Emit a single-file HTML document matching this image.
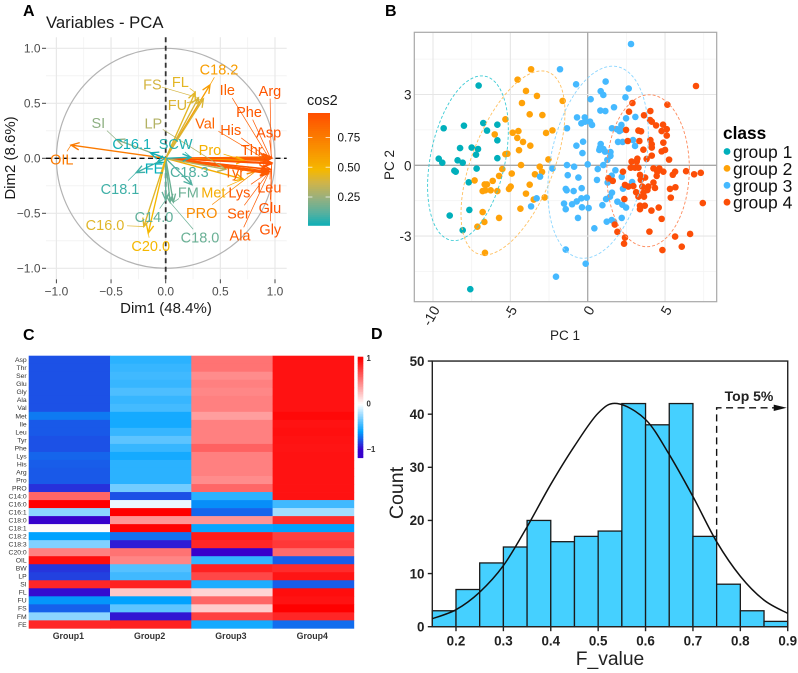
<!DOCTYPE html>
<html>
<head>
<meta charset="utf-8">
<title>PCA, heatmap and histogram figure</title>
<style>
html,body{margin:0;padding:0;background:#fff;width:798px;height:673px;overflow:hidden}
svg{display:block}
text{font-family:"Liberation Sans",sans-serif}
</style>
</head>
<body>
<svg id="fig" width="798" height="673" viewBox="0 0 798 673" xmlns="http://www.w3.org/2000/svg">
  <rect width="798" height="673" fill="#fff"/>
  <text x="23" y="16" font-size="16" font-weight="700">A</text>
  <text x="385" y="16" font-size="16" font-weight="700">B</text>
  <text x="23" y="340" font-size="16" font-weight="700">C</text>
  <text x="371" y="339" font-size="16" font-weight="700">D</text>

  <g id="panelA">
    <text x="46" y="28" font-size="16.7" fill="#1a1a1a">Variables - PCA</text>
    <text x="166" y="313" font-size="15" text-anchor="middle" fill="#1a1a1a">Dim1 (48.4%)</text>
    <text transform="translate(15,158) rotate(-90)" font-size="15" text-anchor="middle" fill="#1a1a1a">Dim2 (8.6%)</text>
    <text x="307" y="105" font-size="14.5" fill="#1a1a1a">cos2</text>
  </g>

  <g id="panelB">
    <text x="565" y="340" font-size="13.5" text-anchor="middle" fill="#222">PC 1</text>
    <text transform="translate(394,165) rotate(-90)" font-size="13.5" text-anchor="middle" fill="#222">PC 2</text>
    <text x="723" y="139" font-size="17.3" font-weight="700">class</text>
  </g>

  <g id="panelC"></g>

  <g id="panelD">
    <text x="610" y="665" font-size="19.3" text-anchor="middle" fill="#222">F_value</text>
    <text transform="translate(403,493) rotate(-90)" font-size="19.6" text-anchor="middle" fill="#222">Count</text>
    <text x="749" y="401" font-size="14" font-weight="700" text-anchor="middle" fill="#222">Top 5%</text>
  </g>
</svg>

<script>
/* ---------- Panel A data ---------- */
const varNames = ["Arg","Asp","Thr","Phe","Ile","Val","His","Pro","Tyr","Met","Lys","PRO","Ser","Ala","Leu","Glu","Gly","OIL","C18.2","FS","FL","FU","LP","SI","C16.1","SCW","FE","C18.3","C18.1","FM","C14.0","C18.0","C16.0","C20.0"];
const varDim1 = [0.965,0.97,0.95,0.96,0.94,0.93,0.95,0.72,0.93,0.71,0.95,0.82,0.94,0.94,0.96,0.97,0.97,-0.866,0.405,0.30,0.27,0.345,0.55,-0.45,-0.14,0.23,-0.08,0.24,-0.27,0.07,0.0,0.04,-0.2,-0.16];
const varDim2 = [0.01,0.0,0.01,0.0,0.01,-0.02,-0.01,-0.02,-0.1,-0.19,-0.12,-0.12,-0.13,-0.14,-0.1,-0.05,-0.04,0.12,0.667,0.55,0.6,0.54,-0.1,0.17,0.05,0.01,-0.04,-0.24,-0.13,-0.4,-0.38,-0.4,-0.62,-0.68];
const labelDim1 = [0.954,0.942,0.787,0.762,0.564,0.36,0.595,0.405,0.625,0.436,0.674,0.329,0.665,0.68,0.948,0.954,0.957,-0.951,0.488,-0.122,0.134,0.107,-0.113,-0.616,-0.311,0.091,-0.107,0.216,-0.418,0.207,-0.107,0.314,-0.555,-0.137];
const labelDim2 = [0.615,0.236,0.076,0.424,0.621,0.318,0.258,0.076,-0.127,-0.309,-0.309,-0.494,-0.5,-0.7,-0.264,-0.448,-0.645,-0.009,0.809,0.673,0.697,0.485,0.318,0.324,0.13,0.13,-0.091,-0.124,-0.276,-0.309,-0.53,-0.718,-0.606,-0.794];
const pcaTicks = [-1,-0.5,0,0.5,1];
const pcaTickLabels = ["\u22121.0","\u22120.5","0.0","0.5","1.0"];
const pcaMinorTicks = [-0.75,-0.25,0.25,0.75];
const cos2Ticks = [0.25,0.5,0.75];

/* ---------- Panel B data ---------- */
const group1X = [-7.05,-9.31,-8.0,-6.75,-5.84,-6.51,-5.84,-8.25,-7.5,-7.09,-7.22,-9.63,-9.4,-8.41,-8.08,-5.84,-8.62,-8.53,-7.18,-7.69,-7.65,-8.92,-8.08,-7.59];
const group1Y = [3.38,1.57,1.68,1.79,1.72,1.47,1.06,0.73,0.75,0.69,0.45,0.28,0.11,0.21,0.11,0.30,-0.23,-0.27,-0.14,-0.72,-1.89,-2.13,-2.75,-5.25];
const group2X = [-3.66,-4.53,-1.62,-3.99,-3.28,-4.25,-3.75,-2.93,-5.32,-6.01,-4.85,-4.48,-4.55,-4.18,-3.71,-2.69,-2.28,-4.44,-5.32,-5.19,-2.54,-4.31,-3.1,-5.52,-4.91,-5.73,-3.41,-2.95,-7.31,-6.66,-6.51,-6.14,-6.79,-6.62,-6.27,-5.84,-5.09,-4.98,-3.75,-3.99,-3.49,-2.78,-4.35,-5.73,-6.79,-6.68,-7.13,-6.64];
const group2Y = [4.07,3.63,2.73,3.15,2.94,2.64,2.16,2.13,1.95,1.31,1.38,1.45,1.16,0.99,0.83,1.37,1.48,0.64,0.47,0.49,0.25,0.01,-0.06,-0.16,-0.35,-0.45,-0.38,-0.28,-0.64,-0.81,-0.81,-0.66,-1.09,-1.06,-1.06,-1.09,-1.0,-0.9,-0.82,-1.2,-1.45,-1.36,-1.84,-2.23,-1.98,-2.4,-2.6,-3.71];
const group3X = [2.8,-1.79,-0.75,1.16,2.65,0.84,1.01,2.44,0.19,0.82,1.14,1.7,2.48,3.08,-0.69,-0.19,-0.41,-0.17,0.15,0.28,-1.34,1.57,2.18,1.88,2.05,2.16,1.96,2.26,2.93,3.06,-0.3,-0.73,-0.34,0.84,0.8,0.75,1.01,1.12,1.47,1.47,1.27,1.01,0,-1.34,-0.88,-2.28,0.65,1.79,1.55,1.36,1.29,-1.29,-0.6,-3.08,0.6,2.2,2.87,2.28,-1.42,-1.36,-0.91,-0.39,1.57,1.44,1.19,-0.06,-0.41,-0.71,-1.01,-1.53,-1.42,-0.37,0.06,0.95,1.92,2.24,2.48,-3.66,-3.3,-0.63,2.2,1.23,1.55,1.7,0.43,-1.42,-0.13,-2.05];
const group3Y = [5.14,4.07,3.43,3.55,3.25,3.14,2.98,2.88,2.8,2.32,2.3,2.46,1.99,2.05,2.03,2.03,1.78,1.85,1.85,1.71,1.57,1.57,1.71,1.53,1.45,1.5,0.99,0.99,1.07,0.82,1.0,0.83,0.52,0.9,0.75,0.65,0.69,0.58,0.56,0.4,0.23,0.01,0.04,0.01,-0.06,-0.14,-0.16,-0.21,-0.44,-0.55,-0.73,-0.42,-0.52,-0.48,-0.62,-0.49,-0.71,-0.99,-1.0,-1.06,-1.09,-0.97,-1.16,-1.33,-1.43,-1.37,-1.4,-1.53,-1.65,-1.62,-1.86,-1.78,-1.81,-1.69,-1.54,-1.67,-1.79,-1.74,-1.4,-2.23,-2.23,-2.39,-2.32,-2.39,-2.67,-3.57,-4.17,-4.72];
const group4X = [7.0,5.15,2.89,2.67,4.05,3.64,4.03,4.14,4.42,4.87,5.11,4.78,5.11,4.89,2.48,3.28,3.45,2.59,3.34,4.05,4.14,4.14,3.6,5.0,4.78,5.26,4.14,3.81,3.21,2.84,3.17,2.78,3.06,3.28,4.25,4.63,4.5,4.89,2.28,1.34,1.62,3.38,3.43,3.71,4.46,5.65,5.5,6.36,6.88,7.31,2.41,2.63,2.95,3.53,3.92,4.25,4.35,3.13,3.6,3.86,3.28,3.64,5.32,5.67,5.37,7.44,2.37,1.75,3.38,3.69,3.38,4.12,4.59,4.78,1.92,3.99,2.41,2.35,6.62,5.65,6.08,4.83];
const group4Y = [3.36,2.57,2.64,2.27,2.3,2.12,1.92,1.85,1.69,1.72,1.53,1.45,1.26,0.96,1.5,1.47,1.44,1.03,1.03,1.07,0.89,0.75,0.66,0.65,0.59,0.24,0.41,0.27,0.28,0.16,0.16,-0.1,-0.1,-0.1,-0.13,-0.13,-0.27,-0.27,-0.27,-0.55,-0.66,-0.41,-0.62,-0.52,-0.45,-0.27,-0.4,-0.25,-0.38,-0.32,-0.83,-0.9,-0.88,-0.9,-0.9,-0.73,-0.96,-1.14,-1.16,-1.05,-1.33,-1.33,-1.0,-0.93,-1.37,-1.6,-1.43,-2.51,-1.71,-1.71,-1.86,-1.92,-1.79,-2.27,-2.82,-2.81,-3.06,-3.32,-2.91,-3.02,-3.45,-3.59];
const groupNames = ["group 1","group 2","group 3","group 4"];
const ellipseMeanX = [-7.74,-4.83,0.67,3.9];
const ellipseMeanY = [0.3,0.1,0.13,-0.23];
const ellipseRadiusX = [2.61,3.36,3.25,2.67];
const ellipseRadiusY = [3.49,3.9,4.07,3.22];
const ellipseCorr = [0.34,0.55,0.29,0.03];
const pcXTicks = [-10,-5,0,5];
const pcYTicks = [3,0,-3];

/* ---------- Panel C data ---------- */
const heatRows = ["Asp","Thr","Ser","Glu","Gly","Ala","Val","Met","Ile","Leu","Tyr","Phe","Lys","His","Arg","Pro","PRO","C14:0","C16:0","C16:1","C18:0","C18:1","C18:2","C18:3","C20:0","OIL","BW","LP","SI","FL","FU","FS","FM","FE"];
const heatCols = ["Group1","Group2","Group3","Group4"];
const heatGroup1 = [-0.8,-0.8,-0.8,-0.8,-0.8,-0.8,-0.8,-0.7,-0.78,-0.78,-0.8,-0.8,-0.75,-0.77,-0.78,-0.78,-0.88,0.6,1.0,-0.27,-1,0.02,-0.6,-0.3,0.5,0.95,-0.87,-0.84,0.85,-0.97,-0.63,-0.76,-0.27,0.85];
const heatGroup2 = [-0.5,-0.47,-0.45,-0.47,-0.42,-0.47,-0.44,-0.55,-0.55,-0.47,-0.38,-0.47,-0.55,-0.5,-0.5,-0.5,-0.33,-0.8,-0.05,1.0,0.42,1.0,-0.72,-0.93,0.55,0.48,-0.4,-0.45,0.87,0.22,-0.6,-0.38,-0.95,0.87];
const heatGroup3 = [0.55,0.55,0.45,0.5,0.47,0.5,0.5,0.38,0.5,0.5,0.5,0.62,0.5,0.5,0.5,0.45,0.6,-0.5,-0.65,-0.75,0.42,-0.58,0.9,0.85,-1,-0.48,0.87,0.72,-0.53,0.17,0.6,0.2,0.75,-0.55];
const heatGroup4 = [0.93,0.93,0.93,0.93,0.93,0.93,0.93,0.97,0.93,0.94,0.93,0.92,0.93,0.93,0.93,0.93,0.93,0.93,-0.45,-0.22,0.82,-0.6,0.75,0.78,0.58,-0.77,0.83,0.92,-0.77,0.95,0.93,1.0,0.85,-0.73];
const heatScaleTicks = [1,0,-1];
const heatScaleLabels = ["1","0","\u22121"];

/* ---------- Panel D data ---------- */
const binStarts = [0.15,0.2,0.25,0.3,0.35,0.4,0.45,0.5,0.55,0.6,0.65,0.7,0.75,0.8,0.85];
const binCounts = [3,7,12,15,20,16,17,18,42,38,42,17,8,3,1];
const curveX = [0.15,0.2,0.25,0.3,0.35,0.4,0.45,0.5,0.54,0.6,0.65,0.7,0.75,0.8,0.85,0.9];
const curveY = [1.5,3.2,6.5,11.5,18.8,26.8,34,40.2,42,39,32.4,24.5,16,9.5,5,2.5];
const histXTicks = ["0.2","0.3","0.4","0.5","0.6","0.7","0.8","0.9"];
const histYTicks = ["0","10","20","30","40","50"];
const topCutoff = 0.75;
const topCutoffCount = 41.2;
const topCutoffBase = 17;

/* ---------- helpers ---------- */
const NS = "http://www.w3.org/2000/svg";
function mk(parent, tag, attrs, txt) {
  const n = document.createElementNS(NS, tag);
  for (const k in attrs) n.setAttribute(k, attrs[k]);
  if (txt !== undefined) n.textContent = txt;
  parent.appendChild(n);
  return n;
}
function hexMix(a, b, t) {
  const r = [0, 1, 2].map(i => Math.round(a[i] + (b[i] - a[i]) * t));
  return "rgb(" + r.join(",") + ")";
}
const panelA = document.getElementById("panelA");
const panelB = document.getElementById("panelB");
const panelC = document.getElementById("panelC");
const panelD = document.getElementById("panelD");

/* ---------- Panel A ---------- */
const xA = v => 165.7 + 109.3 * v;
const yA = v => 158.3 - 110 * v;
const A_L = 46, A_R = 286.7, A_T = 37.3, A_B = 279.3;
const rampAt = [0, 0.12, 0.25, 0.38, 0.485, 0.954];
const rampRGB = [[0,175,187],[84,176,160],[152,176,126],[208,180,72],[245,184,0],[255,80,0]];
function cos2Color(c) {
  if (c <= rampAt[0]) return hexMix(rampRGB[0], rampRGB[0], 0);
  for (let i = 0; i < rampAt.length - 1; i++) {
    if (c <= rampAt[i + 1]) return hexMix(rampRGB[i], rampRGB[i + 1], (c - rampAt[i]) / (rampAt[i + 1] - rampAt[i]));
  }
  return hexMix(rampRGB[5], rampRGB[5], 0);
}
pcaMinorTicks.forEach(t => {
  const a = mk(panelA, "line", {x1: xA(t), x2: xA(t), y1: A_T, y2: A_B, stroke: "#f1f1f1", "stroke-width": 0.8});
  
  
  const b = mk(panelA, "line", {x1: A_L, x2: A_R, y1: yA(t), y2: yA(t), stroke: "#f1f1f1", "stroke-width": 0.8});
  
  
});
pcaTicks.forEach((t, i) => {
  const a = mk(panelA, "line", {x1: xA(t), x2: xA(t), y1: A_T, y2: A_B, stroke: "#e8e8e8", "stroke-width": 1.2});
  
  
  const b = mk(panelA, "line", {x1: A_L, x2: A_R, y1: yA(t), y2: yA(t), stroke: "#e8e8e8", "stroke-width": 1.2});
  
  
  const tx = mk(panelA, "line", {x1: xA(t), x2: xA(t), y1: A_B, y2: A_B + 4, stroke: "#444", "stroke-width": 1});
  
  
  const ty = mk(panelA, "line", {x1: A_L - 4, x2: A_L, y1: yA(t), y2: yA(t), stroke: "#444", "stroke-width": 1});
  
  
  const lx = mk(panelA, "text", {x: xA(t), y: 295.5, "font-size": 12, "text-anchor": "middle", fill: "#4d4d4d"}, pcaTickLabels[i]);
  
  
  const ly = mk(panelA, "text", {x: 40.5, y: yA(t) + 4.2, "font-size": 12, "text-anchor": "end", fill: "#4d4d4d"}, pcaTickLabels[i]);
  
  
});
const unitCircle = mk(panelA, "ellipse", {cx: xA(0), cy: yA(0), rx: xA(1) - xA(0), ry: yA(0) - yA(1), fill: "none", stroke: "#b3b3b3", "stroke-width": 1.2});


const zeroH = mk(panelA, "line", {x1: A_L, x2: A_R, y1: yA(0), y2: yA(0), stroke: "#111", "stroke-width": 1.3, "stroke-dasharray": "5 3.5"});


const zeroV = mk(panelA, "line", {x1: xA(0), x2: xA(0), y1: A_T, y2: A_B, stroke: "#333", "stroke-width": 1.8, "stroke-dasharray": "5 3.5"});



varNames.forEach((name, i) => {
  const c = cos2Color(varDim1[i] * varDim1[i] + varDim2[i] * varDim2[i]);
  const x1 = xA(0), y1 = yA(0), x2 = xA(varDim1[i]), y2 = yA(varDim2[i]);
  const ang = Math.atan2(y2 - y1, x2 - x1), h = 9, sp = 0.42;
  const d = "M" + x1 + " " + y1 + "L" + x2 + " " + y2 +
    "M" + (x2 - h * Math.cos(ang - sp)) + " " + (y2 - h * Math.sin(ang - sp)) + "L" + x2 + " " + y2 +
    "L" + (x2 - h * Math.cos(ang + sp)) + " " + (y2 - h * Math.sin(ang + sp));
  const ar = mk(panelA, "path", {d: d, fill: "none", stroke: c, "stroke-width": 1.35});
  
  
  const lx = xA(labelDim1[i]), ly = yA(labelDim2[i]);
  const hw = name.length * 4.2 + 1, hh = 8;
  const dx = x2 - lx, dy = y2 - ly;
  const s = Math.min(hw / Math.max(Math.abs(dx), 0.01), hh / Math.max(Math.abs(dy), 0.01));
  if (s < 0.85) {
    const seg = mk(panelA, "line", {x1: lx + dx * s, y1: ly + dy * s, x2: x2, y2: y2, stroke: c, "stroke-width": 0.7});
    
    
  }
});
varNames.forEach((name, i) => {
  const c = cos2Color(varDim1[i] * varDim1[i] + varDim2[i] * varDim2[i]);
  const t = mk(panelA, "text", {x: xA(labelDim1[i]), y: yA(labelDim2[i]) + 5.2, "font-size": 14.5, "text-anchor": "middle", fill: c}, name);
  
  
});
/* cos2 colourbar */
const barTop = 113, barBottom = 225.3, barL = 308, barR = 330;
const yCos = c => barTop + (0.954 - c) * 358 / 3;
for (let i = 0; i < 56; i++) {
  const y0 = barTop + i * (barBottom - barTop) / 56;
  const val = 0.954 - (y0 - barTop) * 3 / 358;
  const r = mk(panelA, "rect", {x: barL, y: y0, width: barR - barL, height: (barBottom - barTop) / 56 + 0.5, fill: cos2Color(val)});
  
  
}
cos2Ticks.forEach(t => {
  const l1 = mk(panelA, "line", {x1: barL, x2: barL + 4.4, y1: yCos(t), y2: yCos(t), stroke: "#fff", "stroke-width": 0.7});
  
  
  const l2 = mk(panelA, "line", {x1: barR - 4.4, x2: barR, y1: yCos(t), y2: yCos(t), stroke: "#fff", "stroke-width": 0.7});
  
  
  const tx = mk(panelA, "text", {x: 337.5, y: yCos(t) + 4.2, "font-size": 11.7, fill: "#111"}, t.toFixed(2));
  
  
});

/* ---------- Panel B ---------- */
const xB = v => 587.7 + 15.47 * v;
const yB = v => 165.3 - 23.6 * v;
const B_L = 414.3, B_R = 716.7, B_T = 32.3, B_B = 301.7;
const groupColors = ["#00AFBB", "#FFA208", "#45B9FF", "#FC4E07"];
const groupLines = ["#3CCBD5", "#FFC060", "#8AD5FF", "#FD8A5C"];
[-7.5, -2.5, 2.5, 7.5].forEach(v => {
  const g = mk(panelB, "line", {x1: xB(v), x2: xB(v), y1: B_T, y2: B_B, stroke: "#f3f3f3", "stroke-width": 0.8});
  
  
});
[4.5, 1.5, -1.5, -4.5].forEach(v => {
  const g = mk(panelB, "line", {x1: B_L, x2: B_R, y1: yB(v), y2: yB(v), stroke: "#f3f3f3", "stroke-width": 0.8});
  
  
});
pcXTicks.forEach(v => {
  const g = mk(panelB, "line", {x1: xB(v), x2: xB(v), y1: B_T, y2: B_B, stroke: v === 0 ? "#a8a8a8" : "#e6e6e6", "stroke-width": v === 0 ? 1.3 : 1.1});
  
  
  const tx = mk(panelB, "text", {transform: "translate(" + (xB(v) + 3) + ",307) rotate(-60)", "font-size": 14, "text-anchor": "end", "dominant-baseline": "central", fill: "#222"}, String(v));
  
  
});
pcYTicks.forEach(v => {
  const g = mk(panelB, "line", {x1: B_L, x2: B_R, y1: yB(v), y2: yB(v), stroke: v === 0 ? "#a8a8a8" : "#e6e6e6", "stroke-width": v === 0 ? 1.3 : 1.1});
  
  
  const tx = mk(panelB, "text", {x: 411.5, y: yB(v) + 5, "font-size": 13.5, "text-anchor": "end", fill: "#222"}, String(v));
  
  
});
const frameB = mk(panelB, "rect", {x: B_L, y: B_T, width: B_R - B_L, height: B_B - B_T, fill: "none", stroke: "#a8a8a8", "stroke-width": 1.2});


[[group1X, group1Y], [group2X, group2Y], [group3X, group3Y], [group4X, group4Y]].forEach((g, k) => {
  g[0].forEach((v, i) => {
    const p = mk(panelB, "circle", {cx: xB(v), cy: yB(g[1][i]), r: 3.3, fill: groupColors[k]});
    
    
  });
});
groupNames.forEach((name, k) => {
  let d = "";
  const rho = ellipseCorr[k], q = Math.sqrt(1 - rho * rho);
  for (let s = 0; s <= 120; s++) {
    const t = s / 120 * 2 * Math.PI;
    const px = xB(ellipseMeanX[k] + ellipseRadiusX[k] * Math.cos(t));
    const py = yB(ellipseMeanY[k] + ellipseRadiusY[k] * (rho * Math.cos(t) + q * Math.sin(t)));
    d += (s ? "L" : "M") + px.toFixed(1) + " " + py.toFixed(1);
  }
  const e = mk(panelB, "path", {d: d + "Z", fill: "none", stroke: groupLines[k], "stroke-width": 0.9, "stroke-dasharray": "3 2"});
  
  
  const ly = 152 + k * 16.9;
  const dot = mk(panelB, "circle", {cx: 727, cy: ly - 0.5, r: 3.4, fill: groupColors[k]});
  
  
  const lab = mk(panelB, "text", {x: 733, y: ly + 6, "font-size": 17.5, fill: "#111"}, name);
  
  
});

/* ---------- Panel C ---------- */
const H_L = 28.7, H_T = 355.7, CELL_W = 81.3, CELL_H = 8.02;
function heatColor(v) {
  const white = [255, 255, 255], red = [255, 0, 0], sky = [0, 162, 255], deep = [56, 0, 204];
  if (v >= 0) return hexMix(white, red, Math.min(1, v));
  if (v > -0.6) return hexMix(white, sky, -v / 0.6);
  return hexMix(sky, deep, Math.min(1, (-v - 0.6) / 0.4));
}
[heatGroup1, heatGroup2, heatGroup3, heatGroup4].forEach((col, c) => {
  col.forEach((v, r) => {
    const cell = mk(panelC, "rect", {x: H_L + c * CELL_W, y: H_T + r * CELL_H, width: CELL_W + 0.3, height: CELL_H + 0.3, fill: heatColor(v)});
    
    
  });
  const t = mk(panelC, "text", {x: H_L + (c + 0.5) * CELL_W - 1, y: 639, "font-size": 8.8, "font-weight": 700, "text-anchor": "middle", fill: "#333"}, heatCols[c]);
  
  
});
heatRows.forEach((name, r) => {
  const t = mk(panelC, "text", {x: 26.7, y: H_T + (r + 0.5) * CELL_H + 2.4, "font-size": 6.8, "text-anchor": "end", fill: "#333"}, name);
  
  
});
const yScale = v => 403.5 - 45.5 * v;
for (let i = 0; i < 60; i++) {
  const y0 = 356.7 + i * 101 / 60;
  const v = (403.5 - y0) / 45.5;
  const s = mk(panelC, "rect", {x: 357.7, y: y0, width: 5.6, height: 101 / 60 + 0.4, fill: heatColor(Math.max(-1, v))});
  
  
}
heatScaleTicks.forEach((v, i) => {
  const t = mk(panelC, "text", {x: 366.5, y: yScale(v) + 2.8, "font-size": 7.8, "font-weight": 700, fill: "#333"}, heatScaleLabels[i]);
  
  
});

/* ---------- Panel D ---------- */
const xD = v => 432.3 + (v - 0.15) * 473.9;
const yD = v => 626.7 - 5.313 * v;
const binW = 0.05;
binStarts.forEach((s, i) => {
  const b = mk(panelD, "rect", {x: xD(s), y: yD(binCounts[i]), width: xD(s + binW) - xD(s), height: yD(0) - yD(binCounts[i]), fill: "#45D0FF", stroke: "#1a1a1a", "stroke-width": 1.3});
  
  
});
const frameD = mk(panelD, "rect", {x: xD(0.15), y: yD(50), width: xD(0.9) - xD(0.15), height: yD(0) - yD(50), fill: "none", stroke: "#222", "stroke-width": 1.4});


histXTicks.forEach(lab => {
  const v = parseFloat(lab);
  const tk = mk(panelD, "line", {x1: xD(v), x2: xD(v), y1: yD(0), y2: yD(0) + 4.5, stroke: "#222", "stroke-width": 1.4});
  
  
  const t = mk(panelD, "text", {x: xD(v), y: 645.5, "font-size": 13.4, "font-weight": 700, "text-anchor": "middle", fill: "#222"}, lab);
  
  
});
histYTicks.forEach(lab => {
  const v = parseFloat(lab);
  const tk = mk(panelD, "line", {x1: xD(0.15) - 4.5, x2: xD(0.15), y1: yD(v), y2: yD(v), stroke: "#222", "stroke-width": 1.4});
  
  
  const t = mk(panelD, "text", {x: 424.5, y: yD(v) + 4.8, "font-size": 13.4, "font-weight": 700, "text-anchor": "end", fill: "#222"}, lab);
  
  
});
let curveD = "M" + xD(curveX[0]) + " " + yD(curveY[0]);
for (let i = 0; i < curveX.length - 1; i++) {
  const p0 = [xD(curveX[Math.max(0, i - 1)]), yD(curveY[Math.max(0, i - 1)])];
  const p1 = [xD(curveX[i]), yD(curveY[i])];
  const p2 = [xD(curveX[i + 1]), yD(curveY[i + 1])];
  const p3 = [xD(curveX[Math.min(curveX.length - 1, i + 2)]), yD(curveY[Math.min(curveX.length - 1, i + 2)])];
  curveD += "C" + (p1[0] + (p2[0] - p0[0]) / 6) + " " + (p1[1] + (p2[1] - p0[1]) / 6) + " " +
    (p2[0] - (p3[0] - p1[0]) / 6) + " " + (p2[1] - (p3[1] - p1[1]) / 6) + " " + p2[0] + " " + p2[1];
}
const normalCurve = mk(panelD, "path", {d: curveD, fill: "none", stroke: "#111", "stroke-width": 1.5});


const cutoffLine = mk(panelD, "path", {d: "M" + xD(topCutoff) + " " + yD(topCutoffBase) + "V" + yD(topCutoffCount) + "H" + (xD(0.9) - 12), fill: "none", stroke: "#111", "stroke-width": 1.4, "stroke-dasharray": "7 4.5"});


const ay = yD(topCutoffCount), ax = xD(0.9) - 1;
const arrowHead = mk(panelD, "path", {d: "M" + ax + " " + ay + "L" + (ax - 13) + " " + (ay - 3.2) + "L" + (ax - 13) + " " + (ay + 3.2) + "Z", fill: "#111"});


</script>
</body>
</html>
